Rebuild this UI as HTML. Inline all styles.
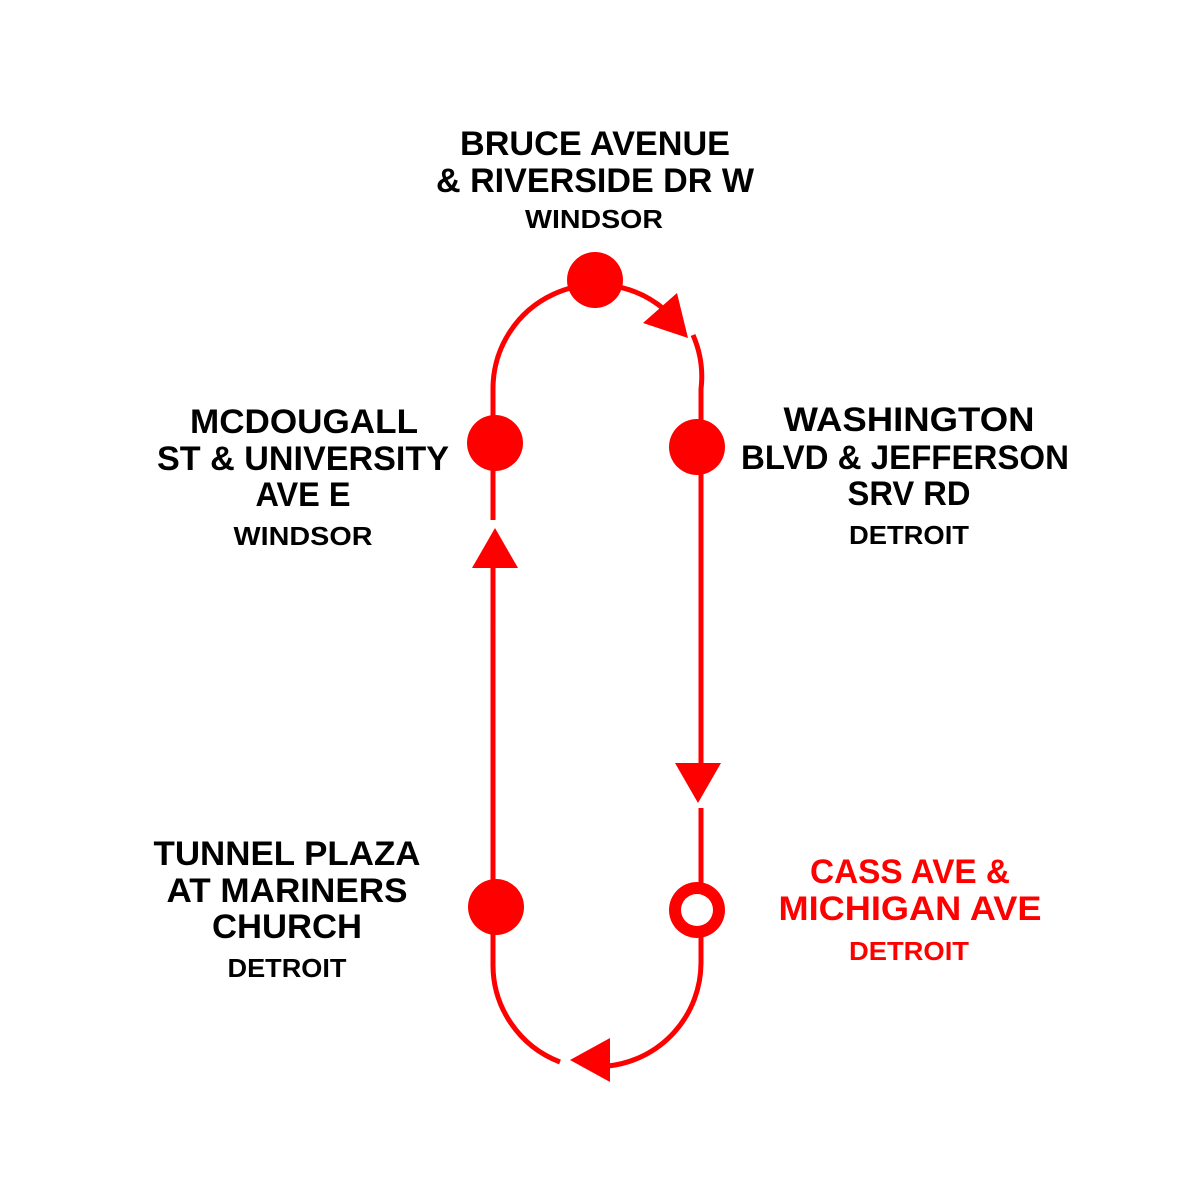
<!DOCTYPE html>
<html><head><meta charset="utf-8"><style>
html,body{margin:0;padding:0;background:#fff}
svg{display:block}
text{font-family:"Liberation Sans",sans-serif;font-weight:bold;text-anchor:middle}
.t{font-size:34px;fill:#000}
.s{font-size:26px;fill:#000}
.r{fill:#ff0000}
</style></head><body>
<svg width="1200" height="1200" viewBox="0 0 1200 1200" xmlns="http://www.w3.org/2000/svg">
<g fill="none" stroke="#ff0000" stroke-width="5">
<path d="M493 520 L493 389 A104 104 0 0 1 665 310"/>
<path d="M693 335 A104 104 0 0 1 701 389 L701 763"/>
<path d="M701 808 L701 963 A104 104 0 0 1 608 1066"/>
<path d="M560 1062 A104 104 0 0 1 493 963 L493 568"/>
</g>
<g fill="#ff0000">
<polygon points="677,293 643,323 688,338"/>
<polygon points="610,1038 570,1060 610,1082"/>
<polygon points="495,528 472,568 518,568"/>
<polygon points="675,763 721,763 698,803"/>
<circle cx="595" cy="280" r="28"/>
<circle cx="495" cy="443" r="28"/>
<circle cx="697" cy="447" r="28"/>
<circle cx="496" cy="907" r="28"/>
<circle cx="697" cy="910" r="28"/>
</g>
<circle cx="697" cy="910" r="16" fill="#fff"/>

<text class="t" x="595" y="155" textLength="270" lengthAdjust="spacingAndGlyphs">BRUCE AVENUE</text>
<text class="t" x="595" y="192" textLength="318" lengthAdjust="spacingAndGlyphs">&amp; RIVERSIDE DR W</text>
<text class="s" x="594" y="228" textLength="138" lengthAdjust="spacingAndGlyphs">WINDSOR</text>

<text class="t" x="304" y="433" textLength="228" lengthAdjust="spacingAndGlyphs">MCDOUGALL</text>
<text class="t" x="303" y="470" textLength="292" lengthAdjust="spacingAndGlyphs">ST &amp; UNIVERSITY</text>
<text class="t" x="303" y="506" textLength="95" lengthAdjust="spacingAndGlyphs">AVE E</text>
<text class="s" x="303" y="545" textLength="139" lengthAdjust="spacingAndGlyphs">WINDSOR</text>

<text class="t" x="909" y="431" textLength="251" lengthAdjust="spacingAndGlyphs">WASHINGTON</text>
<text class="t" x="905" y="469" textLength="328" lengthAdjust="spacingAndGlyphs">BLVD &amp; JEFFERSON</text>
<text class="t" x="909" y="505" textLength="123" lengthAdjust="spacingAndGlyphs">SRV RD</text>
<text class="s" x="909" y="544" textLength="120" lengthAdjust="spacingAndGlyphs">DETROIT</text>

<text class="t" x="287" y="865" textLength="267" lengthAdjust="spacingAndGlyphs">TUNNEL PLAZA</text>
<text class="t" x="287" y="902" textLength="241" lengthAdjust="spacingAndGlyphs">AT MARINERS</text>
<text class="t" x="287" y="938" textLength="150" lengthAdjust="spacingAndGlyphs">CHURCH</text>
<text class="s" x="287" y="977" textLength="119" lengthAdjust="spacingAndGlyphs">DETROIT</text>

<text class="t r" x="910" y="883" textLength="200" lengthAdjust="spacingAndGlyphs">CASS AVE &amp;</text>
<text class="t r" x="910" y="920" textLength="263" lengthAdjust="spacingAndGlyphs">MICHIGAN AVE</text>
<text class="s r" x="909" y="960" textLength="120" lengthAdjust="spacingAndGlyphs">DETROIT</text>
</svg>
</body></html>
